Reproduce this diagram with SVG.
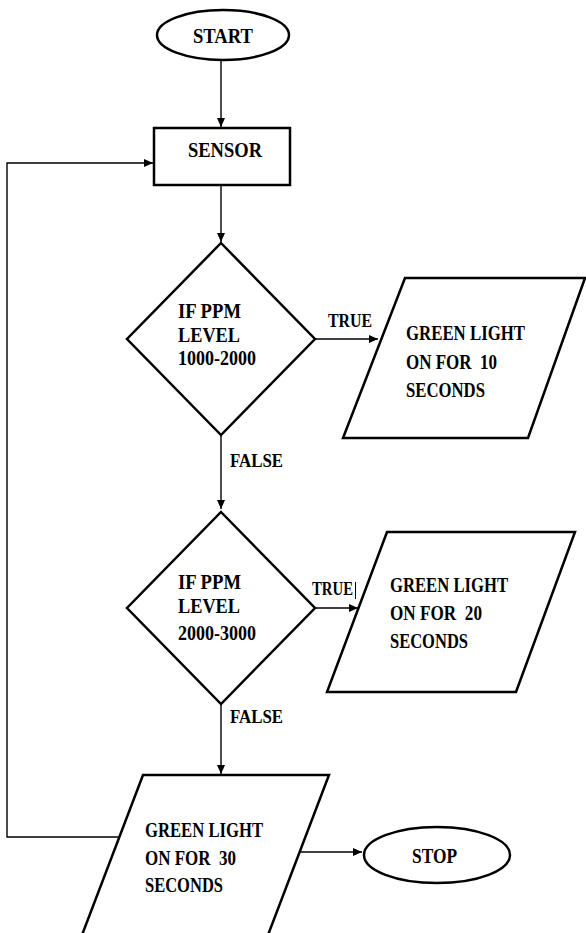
<svg xmlns="http://www.w3.org/2000/svg" width="586" height="933" viewBox="0 0 586 933">
<style>
.shape{fill:#fff;stroke:#000;stroke-width:2.5;stroke-linejoin:miter}
.conn{fill:none;stroke:#000;stroke-width:1.4}
.tx{font-family:"Liberation Serif","Times New Roman","DejaVu Serif",serif;font-weight:bold;fill:#000}
.t{font-size:21px}
.b{font-size:22px}
.l{font-size:19px}
</style>
<defs>
<marker id="ah" markerWidth="10" markerHeight="8" refX="9" refY="4" orient="auto" markerUnits="userSpaceOnUse">
<path d="M0,0 L9,4 L0,8 Z" fill="#000"/>
</marker>
</defs>
<rect width="586" height="933" fill="#fff"/>
<g id="connectors">
<line class="conn" x1="221" y1="60" x2="221" y2="127" marker-end="url(#ah)"/>
<line class="conn" x1="221" y1="185" x2="221" y2="242" marker-end="url(#ah)"/>
<line class="conn" x1="315" y1="339" x2="378" y2="339" marker-end="url(#ah)"/>
<line class="conn" x1="221" y1="435" x2="221" y2="509" marker-end="url(#ah)"/>
<line class="conn" x1="315" y1="608" x2="358" y2="608" marker-end="url(#ah)"/>
<line class="conn" x1="221" y1="704" x2="221" y2="774" marker-end="url(#ah)"/>
<polyline class="conn" points="119,837 7,837 7,163 153,163" marker-end="url(#ah)"/>
<line class="conn" x1="299" y1="852" x2="362" y2="852" marker-end="url(#ah)"/>
<text class="tx l" x="328" y="327" textLength="44" lengthAdjust="spacingAndGlyphs">TRUE</text>
<text class="tx l" x="230" y="467" textLength="53" lengthAdjust="spacingAndGlyphs">FALSE</text>
<text class="tx l" x="312" y="595" textLength="41" lengthAdjust="spacingAndGlyphs">TRUE</text>
<line x1="355.5" y1="582" x2="355.5" y2="599" stroke="#000" stroke-width="1"/>
<text class="tx l" x="230" y="723" textLength="53" lengthAdjust="spacingAndGlyphs">FALSE</text>
</g>
<g id="start">
<ellipse class="shape" cx="223" cy="35" rx="66" ry="25"/>
<text class="tx b" x="193" y="43" textLength="60" lengthAdjust="spacingAndGlyphs">START</text>
</g>
<g id="sensor">
<rect class="shape" x="154" y="128" width="136" height="57"/>
<text class="tx b" x="188" y="157" textLength="74" lengthAdjust="spacingAndGlyphs">SENSOR</text>
</g>
<g id="decision1">
<polygon class="shape" points="221,243 315,339 221,435 127,339"/>
<text class="tx t" x="178" y="318" textLength="63" lengthAdjust="spacingAndGlyphs">IF PPM</text>
<text class="tx t" x="178" y="342" textLength="62" lengthAdjust="spacingAndGlyphs">LEVEL</text>
<text class="tx t" x="178" y="365" textLength="78" lengthAdjust="spacingAndGlyphs">1000-2000</text>
</g>
<g id="output1">
<polygon class="shape" points="405,278 585,278 528,438 343,438"/>
<text class="tx t" x="406" y="340" textLength="119" lengthAdjust="spacingAndGlyphs">GREEN LIGHT</text>
<text class="tx t" x="406" y="369" textLength="91" lengthAdjust="spacingAndGlyphs" xml:space="preserve">ON FOR  10</text>
<text class="tx t" x="406" y="397" textLength="79" lengthAdjust="spacingAndGlyphs">SECONDS</text>
</g>
<g id="decision2">
<polygon class="shape" points="221,512 315,608 221,704 127,608"/>
<text class="tx t" x="178" y="589" textLength="63" lengthAdjust="spacingAndGlyphs">IF PPM</text>
<text class="tx t" x="178" y="613" textLength="62" lengthAdjust="spacingAndGlyphs">LEVEL</text>
<text class="tx t" x="178" y="640" textLength="78" lengthAdjust="spacingAndGlyphs">2000-3000</text>
</g>
<g id="output2">
<polygon class="shape" points="387,532 575,532 516,692 327,692"/>
<text class="tx t" x="390" y="592" textLength="118" lengthAdjust="spacingAndGlyphs">GREEN LIGHT</text>
<text class="tx t" x="390" y="620" textLength="92" lengthAdjust="spacingAndGlyphs" xml:space="preserve">ON FOR  20</text>
<text class="tx t" x="390" y="648" textLength="78" lengthAdjust="spacingAndGlyphs">SECONDS</text>
</g>
<g id="output3">
<polygon class="shape" points="143,775 329,775 268,935 82,935"/>
<text class="tx t" x="145" y="837" textLength="118" lengthAdjust="spacingAndGlyphs">GREEN LIGHT</text>
<text class="tx t" x="145" y="865" textLength="91" lengthAdjust="spacingAndGlyphs" xml:space="preserve">ON FOR  30</text>
<text class="tx t" x="145" y="892" textLength="78" lengthAdjust="spacingAndGlyphs">SECONDS</text>
</g>
<g id="stop">
<ellipse class="shape" cx="437" cy="855" rx="73" ry="28"/>
<text class="tx b" x="412" y="863" textLength="45" lengthAdjust="spacingAndGlyphs">STOP</text>
</g>
</svg>
